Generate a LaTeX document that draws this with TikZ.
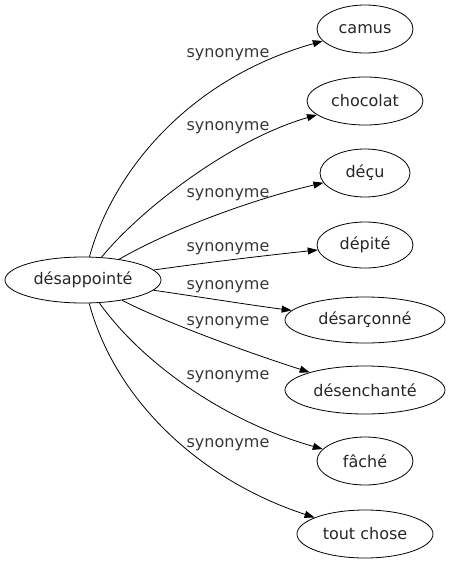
\documentclass[tikz,border=0pt]{standalone}
\usepackage{fontspec}
\setmainfont{DejaVu Sans}
\usetikzlibrary{arrows.meta,shapes.geometric}

\tikzset{
  mot/.style={shape=ellipse,draw=black,line width=0.8pt,inner sep=0pt,text=black!85,font=\fontsize{16}{19}\selectfont},
  syn/.style={draw=black,line width=0.8pt,-{Triangle[length=10pt,width=7pt]}},
  lbl/.style={font=\fontsize{16}{19}\selectfont,text=black!78}
}

\begin{document}
\begin{tikzpicture}[x=1pt,y=-1pt]
   \useasboundingbox (0,0) rectangle (450,563);

   \node[mot,minimum width=156pt,minimum height=46pt] (d) at (83,280) {désappointé};
   \node[mot,minimum width=96pt,minimum height=48pt] (camus) at (365,29) {camus};
   \node[mot,minimum width=116pt,minimum height=48pt] (chocolat) at (365,101) {chocolat};
   \node[mot,minimum width=90pt,minimum height=48pt] (decu) at (365,173) {déçu};
   \node[mot,minimum width=96pt,minimum height=46pt] (depite) at (365,245) {dépité};
   \node[mot,minimum width=160pt,minimum height=46pt] (desarconne) at (365,320) {désarçonné};
   \node[mot,minimum width=160pt,minimum height=48pt] (desenchante) at (365,390) {désenchanté};
   \node[mot,minimum width=96pt,minimum height=48pt] (fache) at (365,461) {fâché};
   \node[mot,minimum width=136pt,minimum height=48pt] (toutchose) at (365,534) {tout chose};

    \draw[syn] (d) .. controls (112,175) and (185,80) .. (camus) node[lbl] at (228,55) {synonyme};
    \draw[syn] (d) .. controls (140,210) and (230,140) .. (chocolat) node[lbl] at (228,128) {synonyme};
    \draw[syn] (d) .. controls (170,230) and (250,200) .. (decu) node[lbl] at (228,195) {synonyme};
    \draw[syn] (d) .. controls (210,262) and (270,255) .. (depite) node[lbl] at (228,249) {synonyme};
    \draw[syn] (d) .. controls (200,297) and (250,305) .. (desarconne) node[lbl] at (228,287) {synonyme};
    \draw[syn] (d) .. controls (160,320) and (240,350) .. (desenchante) node[lbl] at (228,323) {synonyme};
    \draw[syn] (d) .. controls (140,360) and (220,420) .. (fache) node[lbl] at (228,377) {synonyme};
    \draw[syn] (d) .. controls (115,400) and (200,480) .. (toutchose) node[lbl] at (228,445) {synonyme};

\end{tikzpicture}
\end{document}
